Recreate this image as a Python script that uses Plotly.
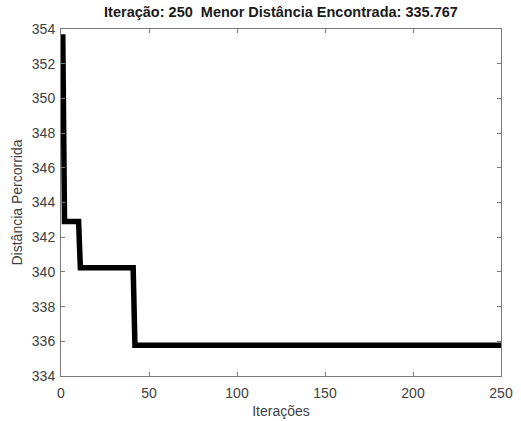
import plotly.graph_objects as go

# Change points of best distance per iteration
iteracoes = [1, 2, 10, 11, 41, 42, 250]
distancias = [353.7, 342.9, 342.9, 340.24, 340.24, 335.767, 335.767]

x_ticks = [0, 50, 100, 150, 200, 250]
y_ticks = [334, 336, 338, 340, 342, 344, 346, 348, 350, 352, 354]

titulo = "Iteração: 250&nbsp;&nbsp;Menor Distância Encontrada: 335.767"
FONT = "Liberation Sans, Arial, sans-serif"

fig = go.Figure()
fig.add_trace(go.Scatter(
    x=iteracoes, y=distancias, mode="lines",
    line=dict(color="black", width=5.5),
    showlegend=False, hoverinfo="skip",
))

axis_common = dict(
    showgrid=False, zeroline=False, automargin=False,
    showline=True, linecolor="#7a7a7a", linewidth=1, mirror="ticks",
    ticks="inside", ticklen=4, tickcolor="#7a7a7a", tickwidth=1,
    tickfont=dict(family=FONT, size=14, color="#404040"),
)

fig.update_layout(
    width=521, height=421,
    margin=dict(l=61, r=20, t=29, b=45),
    paper_bgcolor="white", plot_bgcolor="white",
    title=dict(
        text=titulo, x=0.5, xanchor="center", xref="paper",
        y=1, yref="container", yanchor="top", pad=dict(t=7),
        font=dict(family=FONT, size=14.5, color="#1a1a1a", weight="bold"),
    ),
    xaxis=dict(
        range=[0, 250], tickvals=x_ticks, ticktext=[str(v) for v in x_ticks],
        ticklabelstandoff=4,
        title=dict(text="Iterações", standoff=6,
                   font=dict(family=FONT, size=14, color="#404040")),
        **axis_common,
    ),
    yaxis=dict(
        range=[334, 354], tickvals=y_ticks, ticktext=[str(v) for v in y_ticks],
        ticklabelstandoff=2,
        title=dict(text="Distância Percorrida", standoff=5,
                   font=dict(family=FONT, size=14, color="#404040")),
        **axis_common,
    ),
)

fig.write_html("out.html")
